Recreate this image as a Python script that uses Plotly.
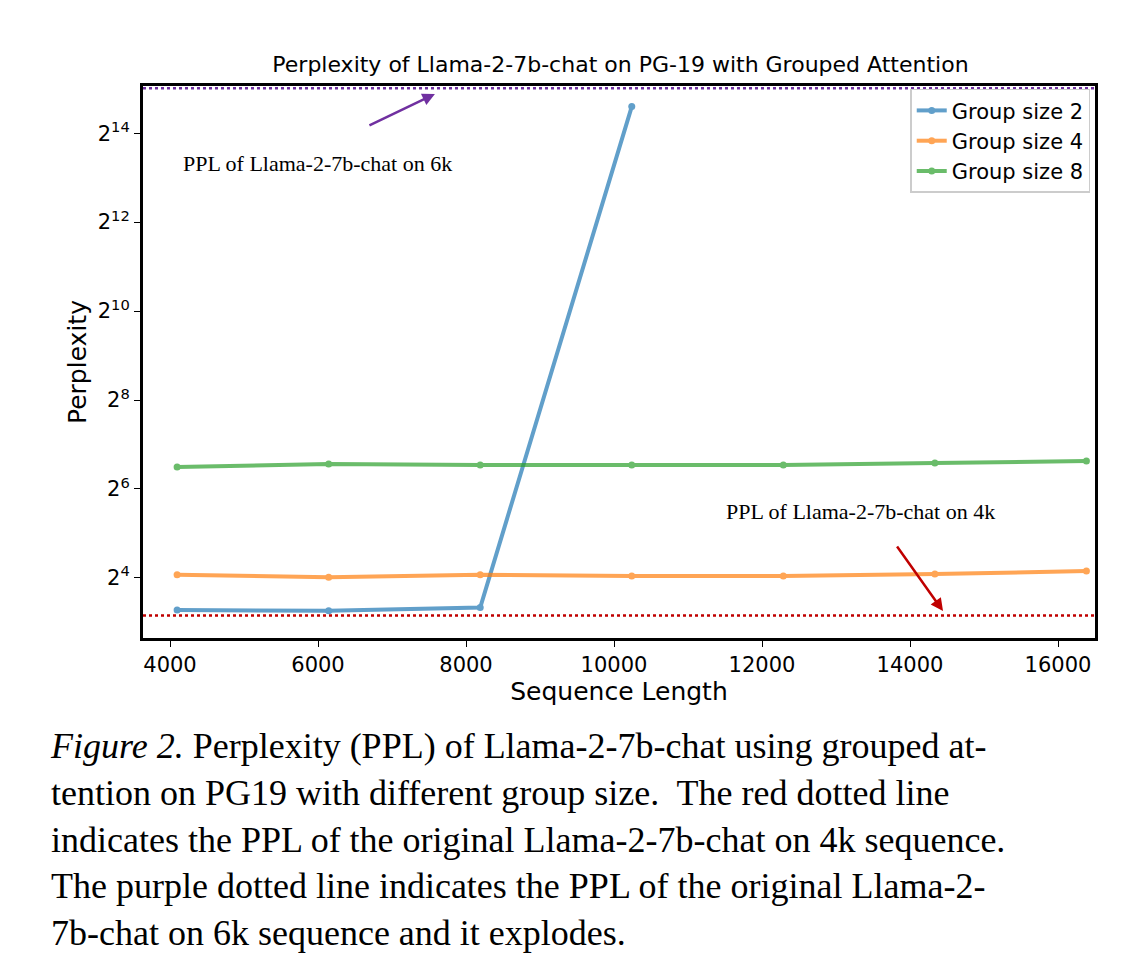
import plotly.graph_objects as go

seq_len = [4096, 6144, 8192, 10240, 12288, 14336, 16384]
group2 = [9.7, 9.6, 10.1, 24800]
group4 = [16.8, 16.2, 16.8, 16.5, 16.5, 17.0, 17.8]
group8 = [90, 94.5, 93, 93, 93, 96, 99]
ppl_4k = 8.9
ppl_6k = 33000
xtick_vals = [4000, 6000, 8000, 10000, 12000, 14000, 16000]
ytick_vals = [16, 64, 256, 1024, 4096, 16384]
ytick_text = ["2<sup>4</sup>", "2<sup>6</sup>", "2<sup>8</sup>", "2<sup>10</sup>", "2<sup>12</sup>", "2<sup>14</sup>"]

fig = go.Figure()
for name, ys, col in [("Group size 2", group2, "#1f77b4"),
                      ("Group size 4", group4, "#ff7f0e"),
                      ("Group size 8", group8, "#2ca02c")]:
    fig.add_trace(go.Scatter(x=seq_len[:len(ys)], y=ys, name=name, mode="lines+markers",
                             line=dict(color=col, width=4), opacity=0.7,
                             marker=dict(size=7, color=col)))

fig.add_hline(y=ppl_4k, line=dict(color="#c00000", width=2.5, dash="dot"))
fig.add_hline(y=ppl_6k, line=dict(color="#7030a0", width=2.5, dash="dot"))

serif = "Liberation Serif"
fig.add_annotation(x=7580, y=14.88 * 0.30103, ax=-67, ay=32, showarrow=True,
                   arrowhead=2, arrowsize=1, arrowwidth=2.5, arrowcolor="#7030a0", text="")
fig.add_annotation(x=14446, y=0.98, ax=-47, ay=-66, showarrow=True,
                   arrowhead=2, arrowsize=1, arrowwidth=2.5, arrowcolor="#c00000", text="")
fig.add_annotation(xref="paper", yref="paper", x=0.04, y=0.885, xanchor="left", showarrow=False,
                   text="PPL of Llama-2-7b-chat on 6k", font=dict(family=serif, size=22, color="black"))
fig.add_annotation(xref="paper", yref="paper", x=0.61, y=0.203, xanchor="left", showarrow=False,
                   text="PPL of Llama-2-7b-chat on 4k", font=dict(family=serif, size=22, color="black"))

caption = ("<i>Figure 2.</i> Perplexity (PPL) of Llama-2-7b-chat using grouped at-<br>"
           "tention on PG19 with different group size.  The red dotted line<br>"
           "indicates the PPL of the original Llama-2-7b-chat on 4k sequence.<br>"
           "The purple dotted line indicates the PPL of the original Llama-2-<br>"
           "7b-chat on 6k sequence and it explodes.")
fig.add_annotation(xref="paper", yref="paper", x=-0.1, y=-0.155, xanchor="left", yanchor="top",
                   showarrow=False, align="left", text=caption,
                   font=dict(family=serif, size=36, color="black"))

fig.update_layout(
    width=1130, height=976, plot_bgcolor="white", paper_bgcolor="white",
    margin=dict(l=135, r=43, t=78, b=346, autoexpand=False),
    font=dict(family="DejaVu Sans", size=21, color="black"),
    title=dict(text="Perplexity of Llama-2-7b-chat on PG-19 with Grouped Attention",
               x=0.542, xanchor="center", y=0.95, font=dict(size=22)),
    legend=dict(x=0.995, y=0.995, xanchor="right", yanchor="top", bordercolor="#cccccc",
                borderwidth=1.5, bgcolor="white", font=dict(size=21)),
)
fig.update_xaxes(range=[3635, 16500], tickvals=xtick_vals, ticktext=[str(v) for v in xtick_vals],
                 title=dict(text="Sequence Length", standoff=2), showgrid=False, zeroline=False,
                 showline=True, linecolor="black", linewidth=3, mirror=True, automargin=False,
                 ticks="outside", ticklen=6, tickcolor="black")
fig.update_yaxes(type="log", range=[2.65 * 0.30103, 15.06 * 0.30103], tickvals=ytick_vals,
                 ticktext=ytick_text, title=dict(text="Perplexity", standoff=4), showgrid=False,
                 showline=True, linecolor="black", linewidth=3, mirror=True, automargin=False,
                 ticks="outside", ticklen=6, tickcolor="black")

fig.write_html("out.html")
